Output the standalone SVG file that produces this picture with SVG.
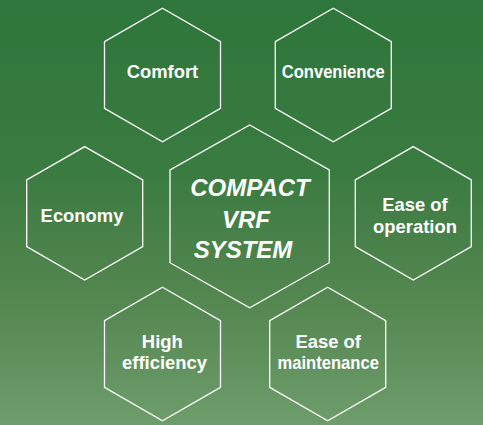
<svg xmlns="http://www.w3.org/2000/svg" width="483" height="425" viewBox="0 0 483 425">
<defs>
<linearGradient id="bg" x1="0" y1="0" x2="0" y2="1">
<stop offset="0" stop-color="#2e763b"/>
<stop offset="0.4" stop-color="#3a7b41"/>
<stop offset="0.7" stop-color="#548650"/>
<stop offset="1" stop-color="#6d9d6b"/>
</linearGradient>
</defs>
<style>
.hex{fill:none;stroke:#ffffff;stroke-width:1.3}
.t{fill:#ffffff;font-family:"Liberation Sans",Arial,sans-serif;font-weight:bold;font-size:18.4px;text-anchor:middle}
.c{fill:#ffffff;font-family:"Liberation Sans",Arial,sans-serif;font-weight:bold;font-style:italic;font-size:24px;text-anchor:middle}
</style>
<rect width="483" height="425" fill="url(#bg)"/>
<g id="center">
<polygon class="hex" points="249.7,125 329.3,170 329.3,262.7 249.7,307.7 170,262.7 170,170"/>
<text class="c" x="250" y="196">COMPACT</text>
<text class="c" x="246" y="227.5">VRF</text>
<text class="c" x="243" y="257.5">SYSTEM</text>
</g>
<g id="comfort">
<polygon class="hex" points="162.5,8.3 220.5,41.7 220.5,108.3 162.5,141.7 104.5,108.3 104.5,41.7"/>
<text class="t" x="162.5" y="78.3">Comfort</text>
</g>
<g id="convenience">
<polygon class="hex" points="333.3,8.3 391.3,41.7 391.3,108.3 333.3,141.7 275.3,108.3 275.3,41.7"/>
<text class="t" x="333.3" y="78.3" textLength="103" lengthAdjust="spacingAndGlyphs">Convenience</text>
</g>
<g id="economy">
<polygon class="hex" points="84.7,146.6 142.7,180 142.7,246.6 84.7,280 26.7,246.6 26.7,180"/>
<text class="t" x="82" y="222.3">Economy</text>
</g>
<g id="ease-of-operation">
<polygon class="hex" points="413.3,146.6 471.3,180 471.3,246.6 413.3,280 355.3,246.6 355.3,180"/>
<text class="t" x="415" y="211.3">Ease of</text>
<text class="t" x="415" y="232.7">operation</text>
</g>
<g id="high-efficiency">
<polygon class="hex" points="162.5,287.3 220.5,320.7 220.5,387.3 162.5,420.7 104.5,387.3 104.5,320.7"/>
<text class="t" x="162.3" y="348.3">High</text>
<text class="t" x="164.5" y="369.3">efficiency</text>
</g>
<g id="ease-of-maintenance">
<polygon class="hex" points="327.7,287.3 385.7,320.7 385.7,387.3 327.7,420.7 269.7,387.3 269.7,320.7"/>
<text class="t" x="328.2" y="348.3">Ease of</text>
<text class="t" x="328.2" y="369.3" textLength="101.5" lengthAdjust="spacingAndGlyphs">maintenance</text>
</g>
</svg>
